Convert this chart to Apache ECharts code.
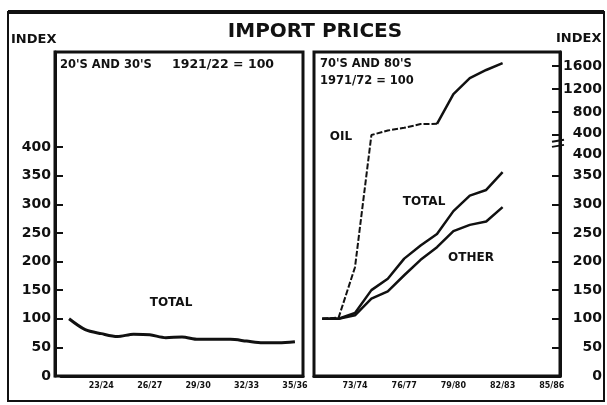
<!DOCTYPE html>
<html>
<head>
<meta charset="utf-8">
<script src="https://cdn.jsdelivr.net/npm/echarts@6/dist/echarts.min.js"></script>
<style>
  html, body { margin: 0; padding: 0; background: #fff; }
  #chart { width: 607px; height: 405px; }
</style>
</head>
<body>
<div id="chart"></div>
<script>
// 20's and 30's, 1921/22 = 100
const leftYears = ["21/22", "22/23", "23/24", "24/25", "25/26", "26/27", "27/28", "28/29",
  "29/30", "30/31", "31/32", "32/33", "33/34", "34/35", "35/36"];
const leftTotal = [100, 81, 74, 69, 73, 72, 67, 68, 64, 64, 64, 61, 58, 58, 60];

// 70's and 80's, 1971/72 = 100
const rightYears = ["71/72", "72/73", "73/74", "74/75", "75/76", "76/77", "77/78", "78/79",
  "79/80", "80/81", "81/82", "82/83", "83/84", "84/85", "85/86"];
const rightTotal = [100, 100, 110, 150, 170, 205, 228, 248, 288, 315, 325, 356];
const rightOther = [100, 100, 106, 135, 148, 176, 203, 225, 253, 264, 270, 295];
const oilDashed = [100, 102, 190, 400, 478, 525, 590, 595];            // 71/72 .. 78/79
const oilSolid = [595, 1110, 1390, 1530, 1650];                        // 78/79 .. 82/83

const leftTicks = [0, 50, 100, 150, 200, 250, 300, 350, 400];
const rightLowerTicks = [0, 50, 100, 150, 200, 250, 300, 350, 400];
const rightUpperTicks = [400, 800, 1200, 1600];

// broken right axis: 0-400 on the same scale as the left panel, 400-1600 squeezed above it
const UPPER_START = 421;
const UPPER_K = 0.1005;
function toAxis(v) {
  if (v == null) return null;
  return v < 400 ? v : UPPER_START + (v - 400) * UPPER_K;
}

const FONT = "DejaVu Sans";
const INK = "#111";
const AXIS_MAX = 566;

let rightLabelText = {};
let rightLabelVals = [];
rightLowerTicks.forEach((v) => {
  let pos = v === 400 ? 388 : v; // lower 400 label sits under the break
  rightLabelVals.push(pos);
  rightLabelText[pos.toFixed(2)] = String(v);
});
rightUpperTicks.forEach((v) => {
  let pos = toAxis(v) + (v === 400 ? 3 : 0);
  rightLabelVals.push(pos);
  rightLabelText[pos.toFixed(2)] = String(v);
});
let rightTickVals = rightLowerTicks.filter((v) => v < 400).concat(rightUpperTicks.map(toAxis));

function pad(arr, before, total) {
  let out = [];
  for (let i = 0; i < total; i++) {
    let j = i - before;
    out.push(j >= 0 && j < arr.length ? toAxis(arr[j]) : null);
  }
  return out;
}

function xAxisOf(gridIndex, data) {
  return {
    type: "category",
    gridIndex: gridIndex,
    data: data,
    boundaryGap: true,
    axisLine: { lineStyle: { color: INK, width: 3 } },
    axisTick: { inside: true, length: 9, interval: 0, lineStyle: { color: INK, width: 2 } },
    axisLabel: {
      interval: (i) => i % 3 === 2,
      margin: 6,
      color: INK,
      fontFamily: FONT,
      fontWeight: "bold",
      fontSize: 8,
    },
    splitLine: { show: false },
  };
}

const chart = echarts.init(document.getElementById("chart"), null, { renderer: "canvas" });

let option = {
  animation: false,
  backgroundColor: "#fff",
  grid: [
    // the 20's panel's years start a little to the right of its index axis
    { left: 61, right: 304, top: 52, bottom: 29, show: false },
    { left: 314, right: 47, top: 52, bottom: 29, show: true, borderColor: INK, borderWidth: 3 },
  ],
  xAxis: [xAxisOf(0, leftYears), xAxisOf(1, rightYears)],
  yAxis: [
    {
      type: "value",
      gridIndex: 0,
      position: "left",
      offset: 6,
      min: 0,
      max: AXIS_MAX,
      axisLine: { show: true, lineStyle: { color: INK, width: 3 } },
      axisTick: { show: true, inside: true, length: 8, customValues: leftTicks, lineStyle: { color: INK, width: 2 } },
      axisLabel: {
        customValues: leftTicks,
        margin: 4,
        color: INK,
        fontFamily: FONT,
        fontWeight: "bold",
        fontSize: 14,
      },
      splitLine: { show: false },
    },
    {
      type: "value",
      gridIndex: 1,
      position: "right",
      min: 0,
      max: AXIS_MAX,
      axisLine: { show: true, lineStyle: { color: INK, width: 3 } },
      axisTick: { show: true, inside: true, length: 8, customValues: rightTickVals, lineStyle: { color: INK, width: 2 } },
      axisLabel: {
        customValues: rightLabelVals,
        formatter: (v) => rightLabelText[Number(v).toFixed(2)] || "",
        align: "right",
        margin: 42,
        color: INK,
        fontFamily: FONT,
        fontWeight: "bold",
        fontSize: 14,
      },
      splitLine: { show: false },
    },
  ],
  series: [
    {
      name: "TOTAL 20s",
      type: "line",
      xAxisIndex: 0,
      yAxisIndex: 0,
      data: leftTotal,
      smooth: 0.3,
      showSymbol: false,
      lineStyle: { color: INK, width: 3 },
    },
    {
      name: "TOTAL",
      type: "line",
      xAxisIndex: 1,
      yAxisIndex: 1,
      data: pad(rightTotal, 0, rightYears.length),
      showSymbol: false,
      lineStyle: { color: INK, width: 2.5 },
    },
    {
      name: "OTHER",
      type: "line",
      xAxisIndex: 1,
      yAxisIndex: 1,
      data: pad(rightOther, 0, rightYears.length),
      showSymbol: false,
      lineStyle: { color: INK, width: 2.5 },
    },
    {
      name: "OIL",
      type: "line",
      xAxisIndex: 1,
      yAxisIndex: 1,
      data: pad(oilDashed, 0, rightYears.length),
      showSymbol: false,
      lineStyle: { color: INK, width: 2, type: [6, 2] },
    },
    {
      name: "OIL solid",
      type: "line",
      xAxisIndex: 1,
      yAxisIndex: 1,
      data: pad(oilSolid, 7, rightYears.length),
      showSymbol: false,
      lineStyle: { color: INK, width: 2.5 },
    },
  ],
};
chart.setOption(option);

// frame, titles and in-panel labels
function txt(x, y, text, size, align) {
  return {
    type: "text",
    x: x,
    y: y,
    style: {
      text: text,
      fill: INK,
      font: "bold " + size + "px '" + FONT + "'",
      align: align || "left",
      verticalAlign: "middle",
    },
  };
}

let breakY1 = chart.convertToPixel({ yAxisIndex: 1 }, 402);
let breakY2 = chart.convertToPixel({ yAxisIndex: 1 }, 411);
let axisX = 607 - 47;

chart.setOption({
  graphic: [
    { type: "rect", shape: { x: 8, y: 12, width: 596, height: 389 }, style: { fill: "none", stroke: INK, lineWidth: 2 } },
    { type: "line", shape: { x1: 8, y1: 12, x2: 604, y2: 12 }, style: { stroke: INK, lineWidth: 4 } },
    { type: "rect", shape: { x: 55, y: 52, width: 248, height: 324 }, style: { fill: "none", stroke: INK, lineWidth: 3 } },
    { type: "line", shape: { x1: axisX - 8, y1: breakY1 + 1, x2: axisX + 4, y2: breakY1 - 1 }, style: { stroke: INK, lineWidth: 2 } },
    { type: "line", shape: { x1: axisX - 8, y1: breakY2 + 1, x2: axisX + 4, y2: breakY2 - 1 }, style: { stroke: INK, lineWidth: 2 } },
    txt(315, 32, "IMPORT PRICES", 20, "center"),
    txt(11, 40, "INDEX", 13),
    txt(556, 39, "INDEX", 13),
    txt(60, 65, "20'S AND 30'S", 11.5),
    txt(172, 65, "1921/22 = 100", 12.5),
    txt(320, 64, "70'S AND 80'S", 11.5),
    txt(320, 81, "1971/72 = 100", 11.5),
    txt(171, 303, "TOTAL", 12, "center"),
    txt(341, 137, "OIL", 12, "center"),
    txt(424, 202, "TOTAL", 12, "center"),
    txt(471, 258, "OTHER", 12, "center"),
  ],
});
</script>
</body>
</html>
